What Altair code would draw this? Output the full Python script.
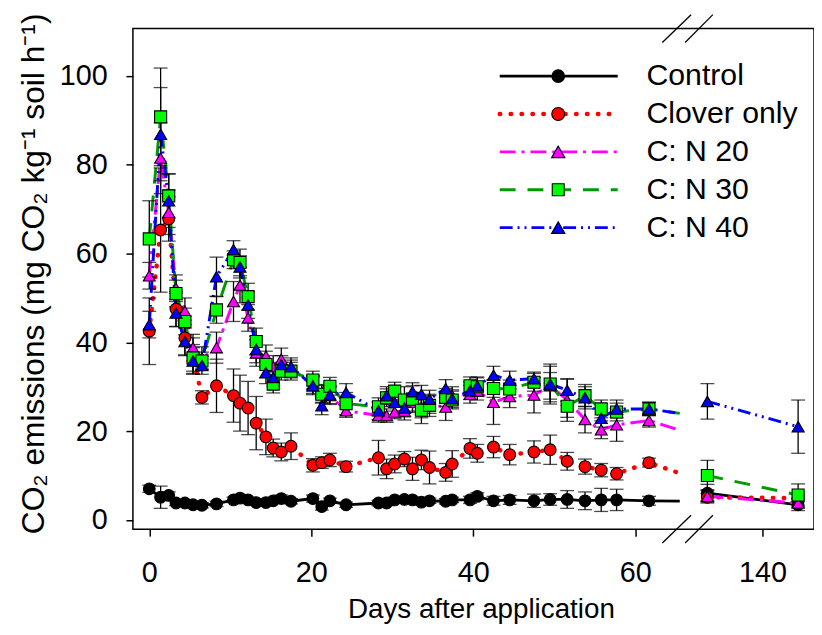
import altair as alt
import pandas as pd

# ---------------- data ----------------
days = [0, 1.4, 2.4, 3.3, 4.4, 5.4, 6.5, 8.3, 10.4, 11.2, 12.2, 13.2, 14.4, 15.3,
        16.3, 17.5, 20.2, 21.3, 22.3, 24.3, 28.3, 29.3, 30.3, 31.5, 32.5, 33.6,
        34.6, 36.6, 37.4, 39.6, 40.5, 42.5, 44.5, 47.5, 49.5, 51.6, 53.8, 55.8,
        57.7, 61.7, 133.2, 144.4]

series_names = ["Control", "Clover only", "C: N 20", "C: N 30", "C: N 40"]

control = [7.0, 5.1, 5.5, 3.8, 3.8, 3.4, 3.3, 3.6, 4.5, 4.9, 4.5, 3.9, 3.9, 4.3,
           4.8, 4.2, 4.8, 3.0, 4.3, 3.4, 3.8, 3.8, 4.5, 4.6, 4.5, 4.0, 4.3, 4.2,
           4.5, 4.5, 5.3, 4.3, 4.5, 4.3, 4.6, 4.6, 4.3, 4.5, 4.5, 4.3, 6.0, 3.4]
control_err = [0.8, 2.5, 0.8, 0.6, 0.6, 0.6, 0.6, 0.6, 0.6, 0.8, 0.6, 0.6, 0.6, 0.6,
               0.8, 0.6, 0.8, 0.8, 0.6, 0.6, 0.6, 0.6, 0.6, 0.6, 0.6, 0.6, 0.6, 0.6,
               0.6, 0.8, 0.8, 1.0, 1.0, 1.5, 1.3, 2.0, 2.0, 2.6, 2.4, 1.0, 2.0, 1.3]

clover = [42.5, 65.3, 67.8, 47.5, 41.0, 37.0, 27.6, 30.2, 28.0, 26.3, 25.2, 21.8,
          18.7, 16.2, 15.3, 16.6, 12.3, 12.9, 13.5, 12.0, 14.0, 11.5, 12.6, 13.7,
          11.5, 13.5, 11.8, 10.7, 12.6, 16.1, 15.0, 16.4, 14.7, 15.3, 15.8, 13.2,
          12.0, 11.2, 10.4, 12.9, 5.1, 4.9]
clover_err = [7.5, 14.0, 5.0, 4.0, 4.0, 4.0, 1.5, 6.0, 6.0, 6.3, 6.0, 6.0, 4.0, 2.0,
              2.0, 3.0, 1.5, 1.3, 1.5, 1.2, 3.9, 2.2, 2.0, 1.7, 2.6, 2.2, 3.7, 2.0,
              3.0, 2.2, 2.0, 2.4, 2.3, 2.5, 3.3, 2.0, 1.7, 1.5, 1.4, 1.0, 0.8, 0.8]

n20 = [55.0, 81.5, 69.3, 52.2, 47.0, 38.8, 36.5, 38.8, 49.2, 52.9, 45.5, 37.6,
       36.9, 34.5, 36.2, 34.0, 30.5, 28.5, 28.0, 24.6, 23.5, 23.5, 24.3, 24.5,
       26.5, 25.0, 26.0, 25.4, 28.0, 28.3, 29.0, 26.5, 27.8, 28.1, 30.2, 27.0,
       22.6, 20.3, 21.4, 22.4, 5.3, 3.8]
n20_err = [3.0, 8.0, 5.0, 3.0, 3.0, 3.0, 2.5, 3.5, 4.5, 4.0, 3.0, 3.0, 2.5, 2.5,
           2.5, 2.0, 2.0, 2.0, 2.0, 1.5, 1.5, 1.5, 1.5, 2.0, 2.0, 2.0, 2.0, 3.0,
           2.0, 2.0, 2.0, 5.0, 2.5, 4.0, 3.0, 4.8, 3.0, 2.0, 3.7, 1.5, 1.5, 1.0]

n30 = [63.3, 90.8, 73.0, 51.0, 44.7, 36.5, 35.8, 47.3, 58.6, 58.0, 50.3, 40.2,
       35.0, 30.6, 33.5, 33.5, 31.5, 28.3, 30.1, 26.2, 25.5, 27.5, 29.0, 27.0,
       27.2, 24.7, 25.8, 27.6, 27.0, 30.2, 30.0, 29.6, 29.5, 31.0, 30.6, 25.6,
       28.0, 25.0, 24.3, 25.0, 10.0, 5.6]
n30_err = [8.6, 11.0, 5.0, 3.0, 3.0, 3.0, 2.0, 3.0, 2.0, 3.0, 3.0, 3.0, 3.0, 2.0,
           2.0, 2.0, 2.0, 2.0, 2.0, 2.5, 2.0, 2.0, 2.0, 3.0, 3.0, 3.0, 2.5, 2.0,
           2.0, 2.0, 2.0, 2.0, 2.0, 2.0, 4.5, 2.5, 2.5, 2.0, 2.0, 1.5, 3.4, 2.5]

n40 = [44.0, 86.9, 71.9, 46.6, 40.2, 35.8, 34.8, 54.8, 60.9, 57.0, 48.4, 38.4,
       33.2, 32.1, 35.0, 34.5, 30.2, 25.7, 28.2, 28.7, 24.6, 28.0, 26.5, 25.2,
       28.9, 28.3, 27.2, 29.6, 27.3, 29.1, 30.2, 32.6, 31.5, 31.8, 30.6, 29.2,
       27.5, 22.9, 25.0, 25.0, 26.7, 21.0]
n40_err = [3.0, 10.5, 6.0, 3.0, 3.0, 3.0, 2.0, 4.4, 2.0, 2.5, 3.0, 3.0, 2.5, 2.0,
           2.0, 2.0, 2.0, 2.0, 2.0, 2.0, 2.0, 2.0, 2.0, 2.0, 2.0, 2.0, 2.0, 2.0,
           2.0, 2.0, 2.0, 2.0, 2.0, 1.5, 4.0, 2.5, 2.5, 2.0, 2.0, 1.5, 4.0, 6.0]

# where the left-hand lines are cut by the axis break, and their level there
break_day = 65.5
break_values = [4.2, 10.5, 20.2, 24.0, 24.0]

x_ticks = [0, 20, 40, 60, 140]
y_ticks = [0, 20, 40, 60, 80, 100]

# ---------------- styles ----------------
line_colors = ["#000000", "#FF0000", "#FF00FF", "#009A00", "#0000FF"]
fill_colors = ["#000000", "#FF0000", "#FF00FF", "#00FF00", "#0000FF"]
shapes = ["circle", "circle", "triangle-up", "square", "triangle-up"]
sizes = [140, 150, 160, 125, 160]
dashes = [None, [0.5, 10.5], [16, 6, 3, 6], [16, 12], [13, 5, 2, 5, 2, 5]]
widths = [2.8, 4.5, 3.0, 3.0, 3.0]
caps = ["butt", "round", "butt", "butt", "butt"]
FONT = "Liberation Sans"

values = [control, clover, n20, n30, n40]
errors = [control_err, clover_err, n20_err, n30_err, n40_err]

rows = []
for i, name in enumerate(series_names):
    for d, v, e in zip(days, values[i], errors[i]):
        rows.append(dict(series=name, k=i, day=d, value=v, lo=v - e, hi=v + e,
                         seg="L" if d < 100 else "R"))
pts = pd.DataFrame(rows)

line_rows = rows + [dict(series=n, k=i, day=break_day, value=break_values[i],
                         lo=None, hi=None, seg="L") for i, n in enumerate(series_names)]
lines_df = pd.DataFrame(line_rows).sort_values(["k", "day"])

W, H = 687, 505
xscale = alt.Scale(domain=[-2.02, 66.65, 130.94, 146.36], range=[0, 561, 561, W],
                   nice=False, zero=False)
yscale = alt.Scale(domain=[-2.1, 110.7], nice=False, zero=False)

xaxis = alt.Axis(values=x_ticks, title="Days after application", grid=False,
                 domain=False, tickSize=7, tickWidth=1.5, tickColor="black",
                 labelFont=FONT, labelFontSize=29, labelColor="black",
                 labelPadding=23, labelFlush=False, labelOverlap=False,
                 titleFont=FONT, titleFontSize=28, titleFontWeight="normal",
                 titleColor="black", titleX=351, titleY=89,
                 titleBaseline="alphabetic", titleAlign="center")
yaxis = alt.Axis(values=y_ticks, title="CO₂ emissions (mg CO₂ kg⁻¹ soil h⁻¹)",
                 grid=False, domain=False, tickSize=7, tickWidth=1.5,
                 tickColor="black", labelFont=FONT, labelFontSize=29,
                 labelColor="black", labelPadding=19,
                 titleFont=FONT, titleFontSize=32, titleFontWeight="normal",
                 titleColor="black", titleX=-90, titleY=247, titleAngle=270,
                 titleBaseline="alphabetic", titleAlign="center")

X = alt.X("day:Q", scale=xscale, axis=xaxis)
def Yf(field):
    return alt.Y(f"{field}:Q", scale=yscale, axis=yaxis)

layers = []
# lines, one per series
for i, name in enumerate(series_names):
    kw = dict(color=line_colors[i], strokeWidth=widths[i], strokeCap=caps[i])
    if dashes[i]:
        kw["strokeDash"] = dashes[i]
    layers.append(
        alt.Chart(lines_df[lines_df.series == name]).mark_line(**kw).encode(
            x=X, y=Yf("value"), detail="seg:N", order="day:Q")
    )

# error bars
layers.append(alt.Chart(pts).mark_rule(color="black", strokeWidth=1.3).encode(
    x=X, y=Yf("lo"), y2="hi:Q"))
for f in ["lo", "hi"]:
    layers.append(alt.Chart(pts).mark_tick(orient="horizontal", size=14,
                                           thickness=1.3, color="black").encode(
        x=X, y=Yf(f)))

# symbols
layers.append(alt.Chart(pts).mark_point(filled=True, stroke="black", strokeWidth=1.1,
                                        opacity=1, fillOpacity=1).encode(
    x=X, y=Yf("value"),
    shape=alt.Shape("series:N", scale=alt.Scale(domain=series_names, range=shapes), legend=None),
    fill=alt.Fill("series:N", scale=alt.Scale(domain=series_names, range=fill_colors), legend=None),
    size=alt.Size("series:N", scale=alt.Scale(domain=series_names, range=sizes), legend=None),
    order=alt.Order("k:Q"),
))

# axis-break marks (pixel layout)
one = pd.DataFrame({"a": [0]})
for (x1, x2) in [(534, 563), (557, 585)]:
    for (yb, yt) in [(519, 491), (14, -14)]:
        layers.append(alt.Chart(one).mark_rule(color="black", strokeWidth=1.3).encode(
            x=alt.value(x1), x2=alt.value(x2), y=alt.value(yb), y2=alt.value(yt)))

# legend (pixel layout)
leg_y0, leg_dy = 48, 38.2
for i, name in enumerate(series_names):
    yy = leg_y0 + i * leg_dy
    d = pd.DataFrame({"series": [name]})
    kw = dict(color=line_colors[i], strokeWidth=widths[i], strokeCap=caps[i])
    if dashes[i]:
        kw["strokeDash"] = dashes[i]
    layers.append(alt.Chart(d).mark_rule(**kw).encode(
        x=alt.value(370), x2=alt.value(489), y=alt.value(yy)))
    layers.append(alt.Chart(d).mark_point(filled=True, shape=shapes[i], size=sizes[i] + 20,
                                          fill=fill_colors[i], stroke="black",
                                          strokeWidth=1.1, opacity=1).encode(
        x=alt.value(429), y=alt.value(yy)))
    layers.append(alt.Chart(d).mark_text(align="left", baseline="middle", font=FONT,
                                         fontSize=30.5, color="black").encode(
        x=alt.value(518), y=alt.value(yy), text="series:N"))

chart = alt.layer(*layers).properties(
    width=W, height=H,
    autosize=alt.AutoSizeParams(type="none"),
    padding={"left": 126, "top": 18, "right": 0, "bottom": 104},
).configure(background="white").configure_view(stroke="black", strokeWidth=1.5)

chart.save("out.html", embed_options={"renderer": "svg", "actions": False})
